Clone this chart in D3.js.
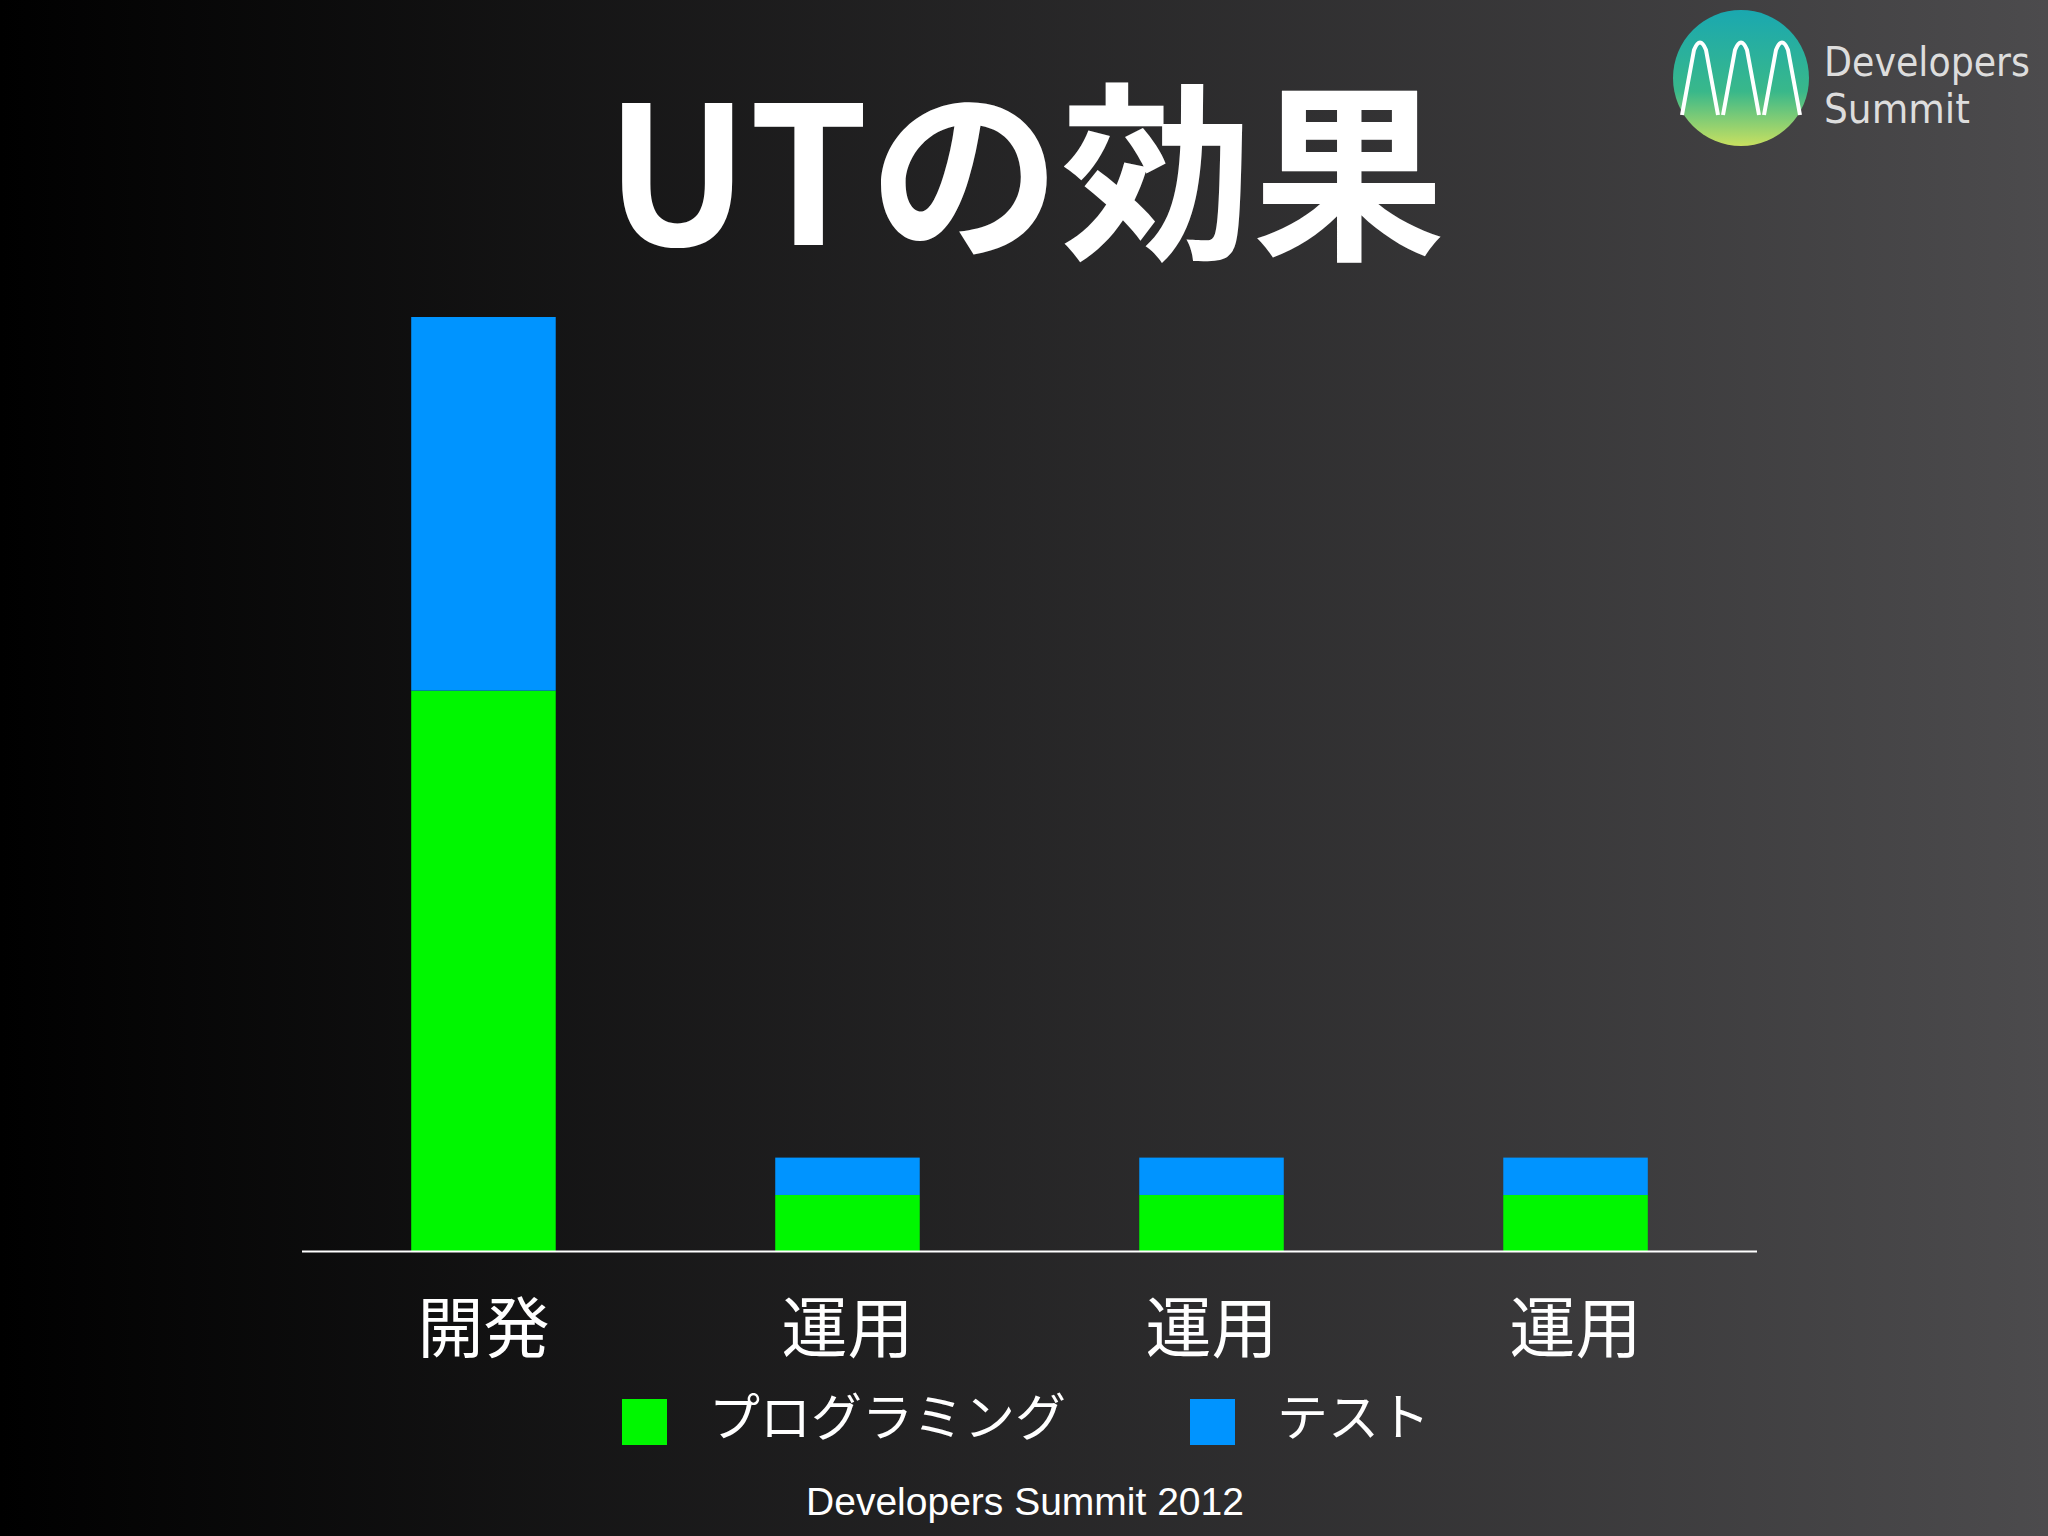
<!DOCTYPE html>
<html><head><meta charset="utf-8">
<script src="https://cdn.jsdelivr.net/npm/d3@7"></script>
<style>body{margin:0;background:#000}</style>
</head><body>
<svg id="chart"></svg>
<script>
var width = 2048, height = 1536;

// data
var categories = ["開発", "運用", "運用", "運用"];
var programming = [15, 1.5, 1.5, 1.5];
var test = [10, 1.0, 1.0, 1.0];
var seriesNames = ["プログラミング", "テスト"];
var seriesColors = ["#00f700", "#0094ff"];

var svg = d3.select("#chart").attr("width", width).attr("height", height);
var defs = svg.append("defs");

var bg = defs.append("linearGradient").attr("id", "bg");
bg.append("stop").attr("offset", "0%").attr("stop-color", "#000");
bg.append("stop").attr("offset", "100%").attr("stop-color", "#4c4b4d");
svg.append("rect").attr("width", width).attr("height", height).attr("fill", "url(#bg)");

var lg = defs.append("linearGradient").attr("id", "logo").attr("x1", 0).attr("y1", 0).attr("x2", 0).attr("y2", 1);
lg.append("stop").attr("offset", "0%").attr("stop-color", "#1aa8b0");
lg.append("stop").attr("offset", "60%").attr("stop-color", "#39b88a");
lg.append("stop").attr("offset", "100%").attr("stop-color", "#c8e060");

// title
svg.append("text").attr("x", 1025).attr("y", 245).attr("text-anchor", "middle")
  .attr("fill", "#fff").attr("font-size", 192).attr("font-weight", "bold")
  .attr("font-family", "'Noto Sans CJK JP', sans-serif").text("UTの効果");

// logo
svg.append("circle").attr("cx", 1741).attr("cy", 78).attr("r", 68).attr("fill", "url(#logo)");
[1700, 1741, 1782].forEach(function (x) {
  svg.append("path").attr("d", "M" + (x - 18) + ",115 L" + (x - 6) + ",50 Q" + x + ",35 " + (x + 6) + ",50 L" + (x + 18) + ",115")
    .attr("fill", "none").attr("stroke", "#fff").attr("stroke-width", 4);
});
svg.append("text").attr("x", 1824).attr("y", 76).attr("fill", "#ddd").attr("font-size", 40)
  .attr("textLength", 206).attr("lengthAdjust", "spacingAndGlyphs")
  .attr("font-family", "'DejaVu Sans', sans-serif").text("Developers");
svg.append("text").attr("x", 1824).attr("y", 123).attr("fill", "#ddd").attr("font-size", 40)
  .attr("textLength", 146).attr("lengthAdjust", "spacingAndGlyphs")
  .attr("font-family", "'DejaVu Sans', sans-serif").text("Summit");

// scales
var x = d3.scaleBand().domain(d3.range(categories.length)).range([302, 1757]).paddingInner(0.603).paddingOuter(0.3);
var y = d3.scaleLinear().domain([0, 25]).range([1251, 317]);

var g = svg.append("g");
categories.forEach(function (c, i) {
  g.append("rect").attr("x", x(i)).attr("width", x.bandwidth())
    .attr("y", y(programming[i])).attr("height", y(0) - y(programming[i])).attr("fill", seriesColors[0]);
  g.append("rect").attr("x", x(i)).attr("width", x.bandwidth())
    .attr("y", y(programming[i] + test[i])).attr("height", y(0) - y(test[i])).attr("fill", seriesColors[1]);
  g.append("text").attr("x", x(i) + x.bandwidth() / 2).attr("y", 1352).attr("text-anchor", "middle")
    .attr("fill", "#fff").attr("font-size", 66).attr("font-family", "'Noto Sans CJK JP', sans-serif").text(c);
});
svg.append("line").attr("x1", 302).attr("x2", 1757).attr("y1", 1251.5).attr("y2", 1251.5)
  .attr("stroke", "#fff").attr("stroke-width", 2);

// legend
var legX = [622, 1190];
seriesNames.forEach(function (n, i) {
  svg.append("rect").attr("x", legX[i]).attr("y", 1399).attr("width", 45).attr("height", 46).attr("fill", seriesColors[i]);
  svg.append("text").attr("x", legX[i] + 87).attr("y", 1436).attr("fill", "#fff").attr("font-size", 51)
    .attr("font-family", "'Noto Sans CJK JP', sans-serif").text(n);
});

svg.append("text").attr("x", 1025).attr("y", 1515).attr("text-anchor", "middle").attr("fill", "#fff")
  .attr("font-size", 39).attr("font-family", "'Liberation Sans', sans-serif").text("Developers Summit 2012");
</script>
</body></html>
